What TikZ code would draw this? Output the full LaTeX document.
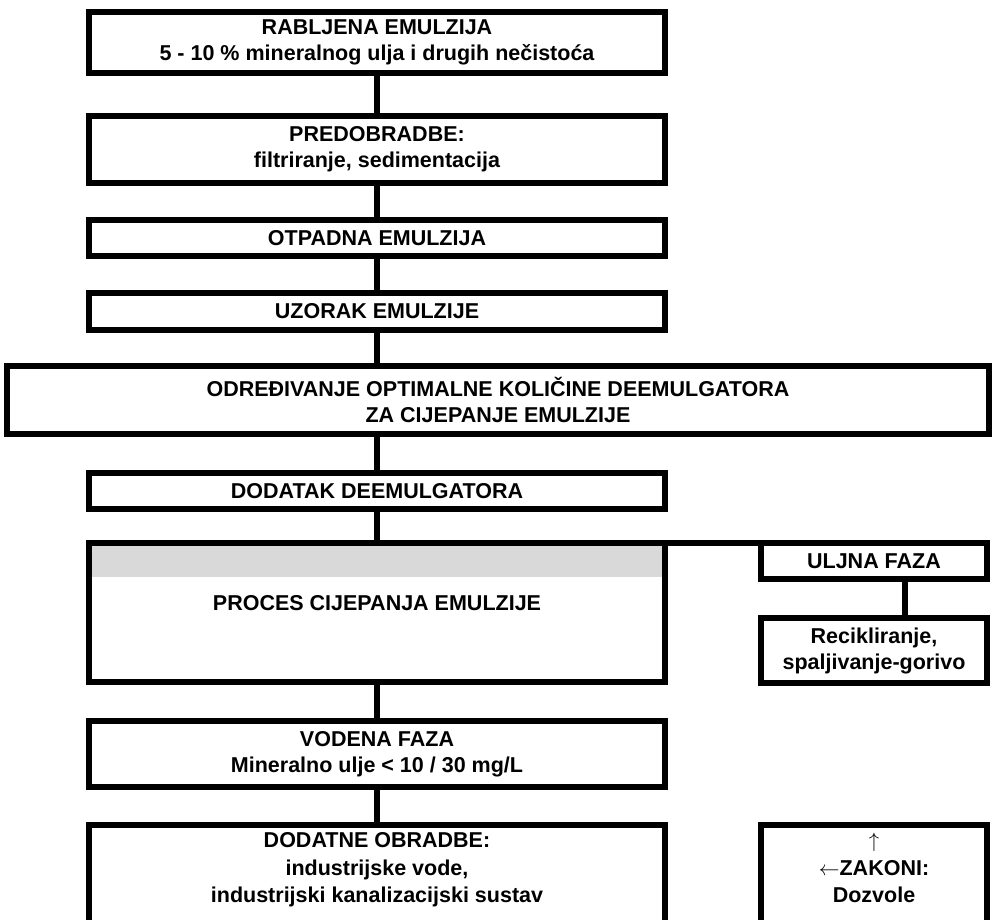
\documentclass[tikz,border=0pt]{standalone}
\usepackage{fontspec}
\setmainfont{Liberation Sans}
\usetikzlibrary{positioning}

\tikzset{
  box/.style={draw, line width=6pt, align=center, inner sep=0pt, outer sep=0pt,
    font=\bfseries\fontsize{21.5}{26}\selectfont},
  mainbox/.style={box, minimum width=576pt},
  sidebox/.style={box, minimum width=226pt},
  openbox/.style={minimum height=100pt, text height=77.7pt, text depth=22.3pt,
    font=\bfseries\fontsize{21.5}{27.5}\selectfont},
  band/.style={path picture={\fill[black!15] (path picture bounding box.north west)
    rectangle ([yshift=-34pt]path picture bounding box.north east);}},
  link/.style={line width=6pt},
}

\begin{document}
\begin{tikzpicture}[x=1pt,y=-1pt,on grid]
	\useasboundingbox (0,0) rectangle (993,919);
	\clip (0,0) rectangle (993,919);
	% main column
	\node[mainbox, minimum height=61pt] (rab) at (377,42.5) {RABLJENA EMULZIJA\\5 - 10 \% mineralnog ulja i drugih nečistoća};
	\node[mainbox, minimum height=67pt] (pre) [below=107pt of rab] {PREDOBRADBE:\\filtriranje, sedimentacija};
	\node[mainbox, minimum height=36pt] (otp) [below=88.5pt of pre] {OTPADNA EMULZIJA};
	\node[mainbox, minimum height=37pt] (uzo) [below=73.5pt of otp] {UZORAK EMULZIJE};
	\node[box, minimum width=982pt, minimum height=68pt] (odr) [below=88.5pt of uzo, xshift=121pt] {ODREĐIVANJE OPTIMALNE KOLIČINE DEEMULGATORA\\ZA CIJEPANJE EMULZIJE};
	\node[mainbox, minimum height=36pt] (dea) [below=91pt of odr, xshift=-121pt] {DODATAK DEEMULGATORA};
	\node[mainbox, band, minimum height=139pt, text depth=19pt] (pro) [below=121.5pt of dea] {PROCES CIJEPANJA EMULZIJE};
	\node[mainbox, minimum height=66pt] (vod) [below=141.5pt of pro] {VODENA FAZA\\Mineralno ulje < 10 / 30 mg/L};
	\node[mainbox, openbox] (obr) [below=121pt of vod] {DODATNE OBRADBE:\\industrijske vode,\\industrijski kanalizacijski sustav};
	% right column
	\node[sidebox, minimum height=36pt] (ulj) [above right=51.5pt and 497pt of pro] {ULJNA FAZA};
	\node[sidebox, minimum height=65pt] (rec) [below=89.5pt of ulj] {Recikliranje,\\spaljivanje-gorivo};
	\node[sidebox, openbox] (zak) [below=224.5pt of rec] {$\uparrow$\\$\leftarrow$ZAKONI:\\Dozvole};

	\draw[link] (rab) -- (pre);
	\draw[link] (pre) -- (otp);
	\draw[link] (otp) -- (uzo);
	\draw[link] (uzo) -- (uzo |- odr.north);
	\draw[link] (dea |- odr.south) -- (dea);
	\draw[link] (dea) -- (pro);
	\draw[link] (pro.north east) -- (ulj.north west);
	\draw[link] ([xshift=31pt]ulj.south) -- ([xshift=31pt]rec.north);
	\draw[link] (pro) -- (vod);
	\draw[link] (vod) -- (obr);
\end{tikzpicture}
\end{document}
